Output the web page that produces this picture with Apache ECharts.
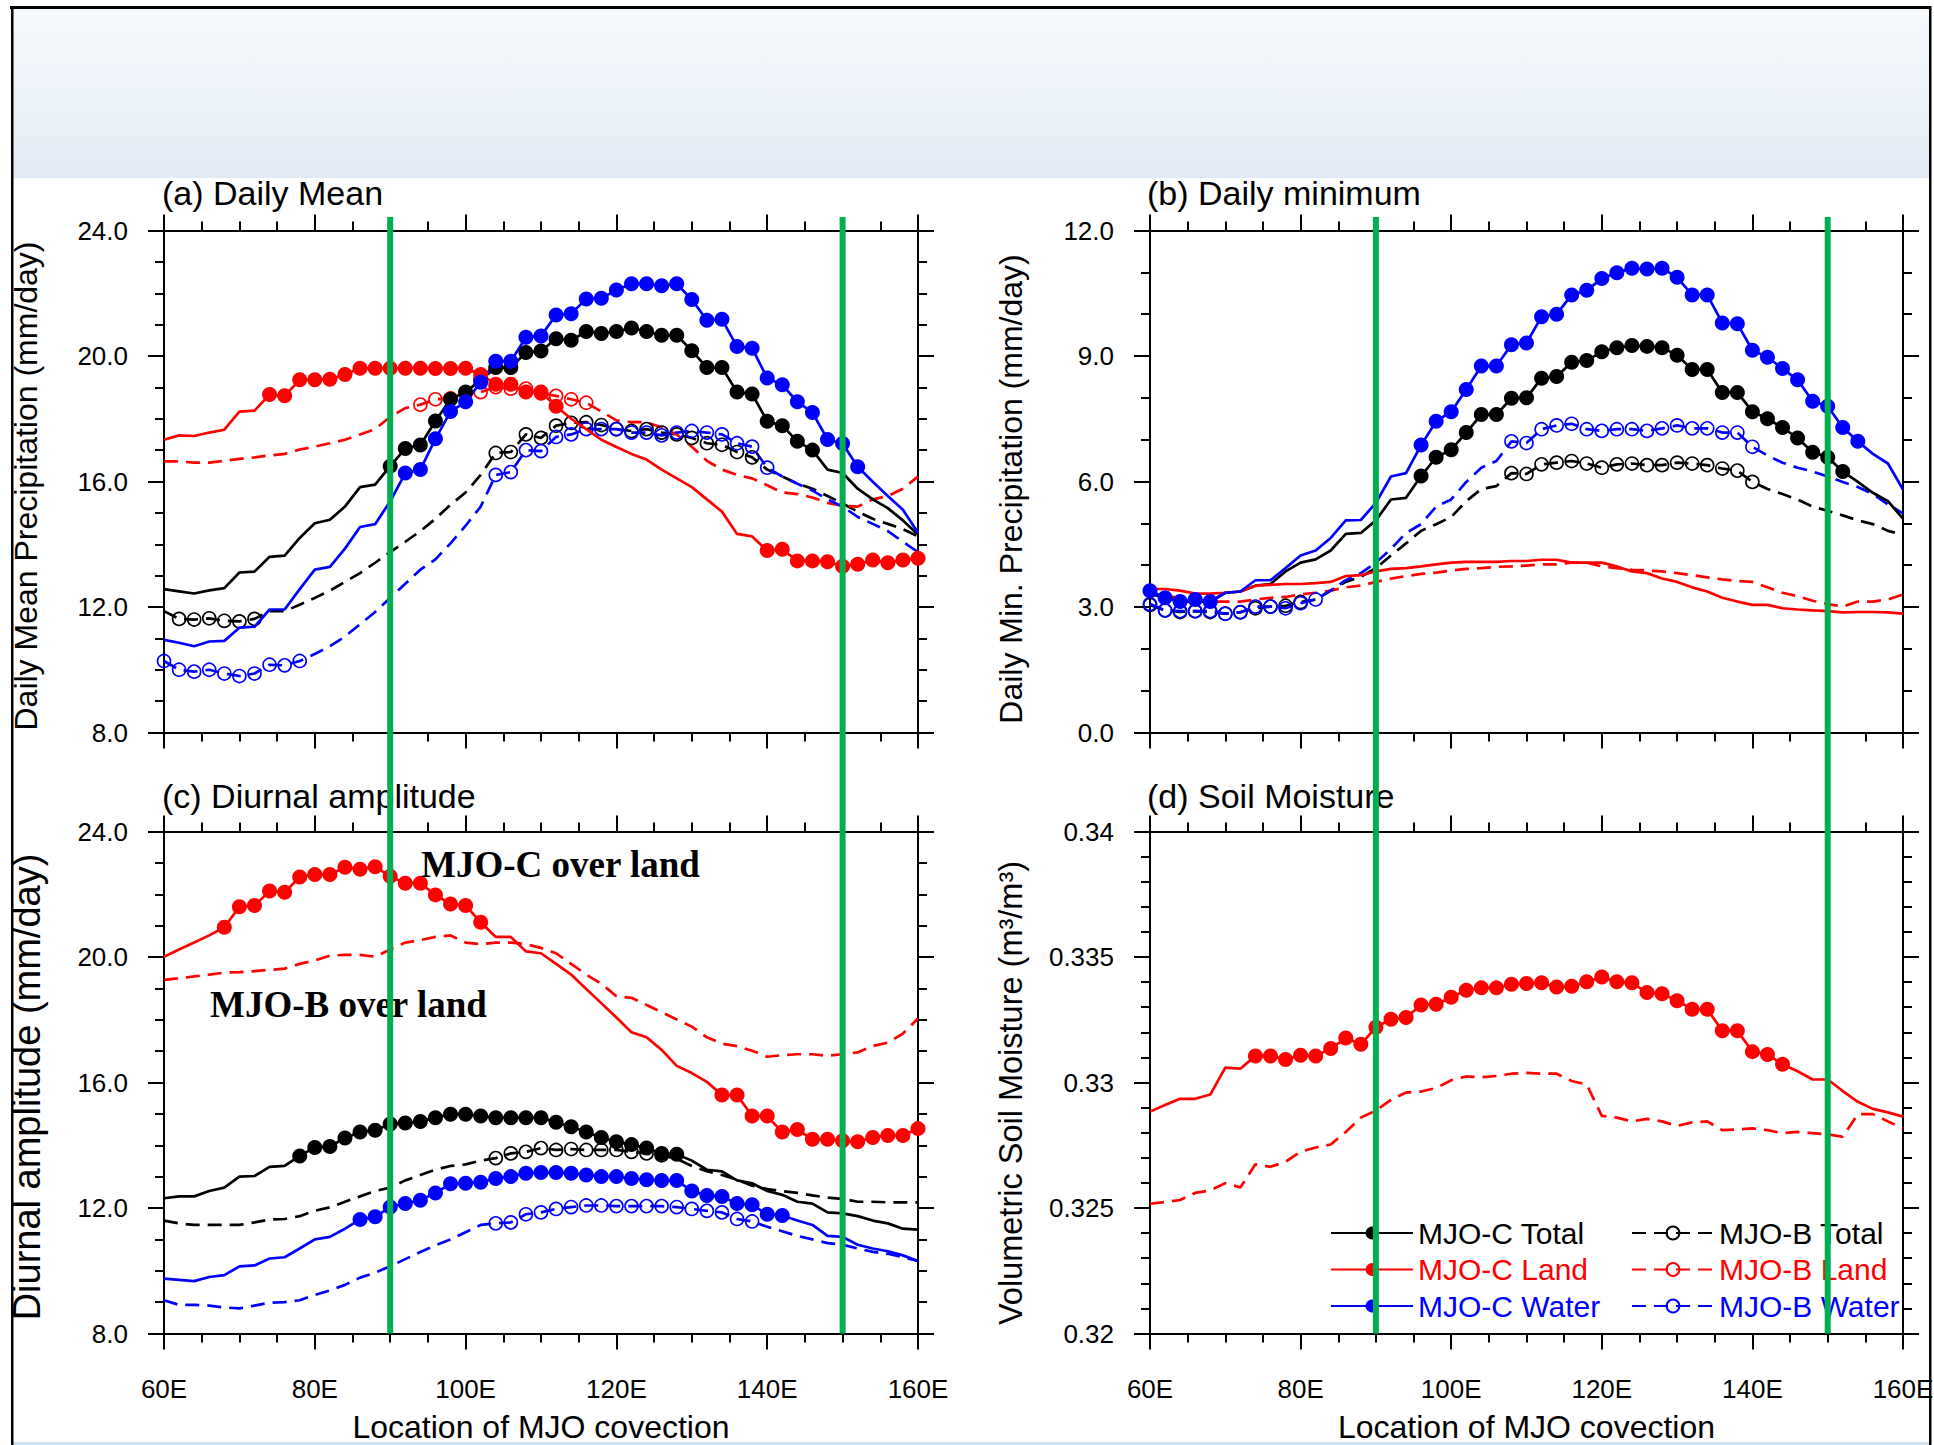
<!DOCTYPE html>
<html>
<head>
<meta charset="utf-8">
<script src="https://cdn.jsdelivr.net/npm/echarts/dist/echarts.min.js"></script>
<style>
html, body { margin: 0; padding: 0; background: #ffffff; }
#chart { width: 1934px; height: 1445px; }
</style>
</head>
<body>
<div id="chart"></div>
<script>
// Longitude of MJO convection (degrees east), shared by every curve
const lons = [60,62,64,66,68,70,72,74,76,78,80,82,84,86,88,90,92,94,96,98,100,102,104,106,108,110,112,114,116,118,120,122,124,126,128,130,132,134,136,138,140,142,144,146,148,150,152,154,156,158,160];
const xTicks = [60, 80, 100, 120, 140, 160];

// (a) Daily mean precipitation (mm/day)
const aCTotal = [12.57,12.5,12.43,12.53,12.6,13.1,13.13,13.6,13.64,14.2,14.67,14.78,15.2,15.82,15.9,16.49,17.05,17.16,17.93,18.62,18.85,19.24,19.63,19.63,20.11,20.16,20.55,20.5,20.78,20.72,20.78,20.89,20.78,20.66,20.66,20.17,19.63,19.63,18.85,18.79,17.92,17.78,17.28,17.0,16.38,16.27,15.77,15.43,15.15,14.76,14.31];
const aCLand  = [17.33,17.47,17.45,17.56,17.65,18.23,18.26,18.77,18.73,19.24,19.24,19.26,19.41,19.61,19.61,19.61,19.61,19.61,19.6,19.6,19.61,19.41,19.1,19.1,18.85,18.85,18.4,18.0,17.67,17.33,17.1,16.88,16.7,16.38,16.1,15.82,15.43,15.04,14.33,14.25,13.8,13.84,13.47,13.47,13.44,13.3,13.36,13.5,13.41,13.5,13.55];
const aCWater = [10.95,10.86,10.75,10.9,10.92,11.34,11.37,11.92,11.92,12.57,13.19,13.28,13.86,14.55,14.64,15.37,16.27,16.38,17.36,18.23,18.54,19.16,19.83,19.83,20.6,20.64,21.31,21.35,21.82,21.84,22.1,22.3,22.3,22.24,22.3,21.8,21.14,21.17,20.3,20.25,19.3,19.08,18.54,18.2,17.34,17.21,16.47,15.99,15.54,15.1,14.37];
const aBTotal = [11.87,11.62,11.6,11.64,11.56,11.54,11.62,11.87,11.87,12.07,12.29,12.52,12.8,13.08,13.41,13.75,14.08,14.42,14.81,15.26,15.65,16.21,16.91,16.94,17.5,17.39,17.78,17.87,17.89,17.8,17.67,17.61,17.67,17.56,17.5,17.39,17.22,17.17,16.94,16.77,16.38,16.16,15.93,15.77,15.54,15.3,15.04,14.81,14.65,14.48,14.25];
const aBLand  = [16.64,16.64,16.6,16.6,16.66,16.72,16.77,16.83,16.88,17.02,17.11,17.22,17.33,17.5,17.67,18.06,18.34,18.45,18.62,18.65,18.81,18.85,19.01,18.96,18.96,18.81,18.73,18.62,18.51,18.23,17.95,17.89,17.89,17.72,17.5,17.11,16.66,16.38,16.21,16.1,15.88,15.65,15.6,15.49,15.32,15.23,15.2,15.43,15.54,15.77,16.16];
const aBWater = [10.28,10.0,9.94,10.0,9.88,9.8,9.88,10.16,10.14,10.28,10.5,10.75,11.06,11.45,11.84,12.29,12.74,13.19,13.52,14.03,14.59,15.2,16.21,16.3,17.0,16.97,17.42,17.5,17.67,17.67,17.67,17.56,17.56,17.47,17.56,17.61,17.56,17.5,17.22,17.11,16.44,16.16,15.93,15.71,15.43,15.2,14.87,14.65,14.42,14.08,13.75];

// (b) Daily minimum precipitation (mm/day)
const bCTotal = [3.32,3.22,3.13,3.13,3.13,3.34,3.37,3.51,3.55,3.85,4.06,4.14,4.35,4.75,4.77,5.07,5.57,5.61,6.13,6.58,6.76,7.17,7.6,7.6,7.99,8.0,8.47,8.51,8.85,8.89,9.1,9.2,9.25,9.23,9.2,9.02,8.68,8.68,8.13,8.13,7.67,7.5,7.29,7.04,6.7,6.58,6.24,5.99,5.73,5.53,5.11];
const bCLand  = [3.43,3.43,3.39,3.32,3.32,3.34,3.37,3.51,3.53,3.55,3.55,3.57,3.6,3.74,3.76,3.85,3.91,3.93,3.97,4.02,4.06,4.08,4.08,4.08,4.1,4.1,4.13,4.13,4.06,4.06,4.06,3.97,3.85,3.81,3.68,3.6,3.47,3.37,3.22,3.13,3.05,3.05,2.97,2.94,2.92,2.9,2.87,2.88,2.88,2.87,2.84];
const bCWater = [3.39,3.22,3.13,3.18,3.13,3.34,3.37,3.64,3.64,3.93,4.23,4.35,4.65,5.07,5.08,5.49,6.12,6.2,6.87,7.44,7.67,8.2,8.76,8.76,9.27,9.31,9.94,10.0,10.46,10.57,10.85,10.99,11.1,11.08,11.1,10.88,10.46,10.46,9.79,9.77,9.14,8.97,8.7,8.43,7.92,7.8,7.29,6.96,6.66,6.43,5.81];
const bBTotal = [3.05,2.92,2.88,2.9,2.88,2.84,2.88,2.97,3.01,3.03,3.12,3.18,3.39,3.6,3.72,3.93,4.23,4.52,4.82,4.98,5.15,5.53,5.82,5.89,6.2,6.18,6.41,6.45,6.49,6.43,6.33,6.41,6.43,6.39,6.39,6.45,6.43,6.39,6.31,6.26,5.99,5.82,5.7,5.57,5.4,5.3,5.19,5.07,4.98,4.82,4.73];
const bBLand  = [3.3,3.26,3.22,3.18,3.13,3.13,3.13,3.18,3.22,3.24,3.3,3.34,3.39,3.47,3.51,3.6,3.68,3.74,3.79,3.82,3.87,3.91,3.93,3.96,3.97,3.99,4.02,4.02,4.06,4.06,3.97,3.93,3.89,3.87,3.85,3.81,3.76,3.71,3.66,3.62,3.6,3.47,3.34,3.26,3.15,3.07,3.01,3.13,3.13,3.18,3.3];
const bBWater = [3.07,2.92,2.9,2.9,2.9,2.84,2.87,3.01,3.01,2.97,3.09,3.18,3.39,3.64,3.81,4.06,4.39,4.77,4.98,5.4,5.57,5.99,6.33,6.49,6.96,6.92,7.25,7.34,7.38,7.25,7.21,7.25,7.25,7.21,7.27,7.34,7.27,7.27,7.17,7.17,6.83,6.62,6.45,6.33,6.24,6.12,5.99,5.87,5.7,5.45,5.24];

// (c) Diurnal amplitude (mm/day)
const cCTotal = [12.31,12.37,12.37,12.54,12.65,13.0,13.02,13.31,13.34,13.66,13.93,13.96,14.23,14.42,14.48,14.68,14.71,14.76,14.88,14.99,14.99,14.93,14.88,14.88,14.88,14.88,14.73,14.59,14.42,14.25,14.11,14.02,13.91,13.74,13.71,13.51,13.22,13.17,12.88,12.79,12.54,12.42,12.2,12.14,11.86,11.83,11.74,11.6,11.51,11.34,11.31];
const cCLand  = [20.01,20.24,20.46,20.69,20.95,21.6,21.64,22.1,22.06,22.55,22.63,22.63,22.86,22.8,22.88,22.57,22.35,22.35,21.98,21.69,21.64,21.11,20.64,20.64,20.18,20.12,19.78,19.44,18.98,18.53,18.07,17.6,17.44,17.04,16.53,16.3,16.02,15.6,15.6,14.93,14.93,14.42,14.5,14.19,14.19,14.14,14.11,14.25,14.31,14.31,14.53];
const cCWater = [9.75,9.71,9.67,9.8,9.86,10.14,10.17,10.39,10.43,10.71,11.0,11.08,11.34,11.63,11.72,12.03,12.14,12.25,12.48,12.77,12.79,12.82,12.94,13.0,13.11,13.13,13.13,13.11,13.05,13.0,13.0,12.94,12.9,12.88,12.88,12.54,12.4,12.37,12.14,12.1,11.8,11.76,11.6,11.46,11.11,11.08,10.83,10.71,10.62,10.49,10.31];
const cBTotal = [11.6,11.51,11.46,11.46,11.46,11.46,11.54,11.63,11.65,11.74,11.91,12.02,12.2,12.37,12.54,12.65,12.88,13.05,13.22,13.34,13.39,13.51,13.59,13.74,13.79,13.91,13.85,13.88,13.85,13.85,13.85,13.79,13.74,13.68,13.57,13.34,13.17,13.05,12.9,12.71,12.6,12.54,12.48,12.4,12.33,12.29,12.2,12.2,12.18,12.18,12.18];
const cBLand  = [19.27,19.32,19.38,19.44,19.5,19.52,19.55,19.59,19.63,19.78,19.89,20.04,20.07,20.07,20.01,20.24,20.46,20.54,20.64,20.69,20.46,20.41,20.46,20.46,20.41,20.29,20.12,19.78,19.44,19.15,18.75,18.7,18.47,18.24,18.01,17.78,17.44,17.24,17.16,17.01,16.82,16.87,16.9,16.9,16.85,16.9,16.96,17.16,17.27,17.56,18.04];
const cBWater = [9.06,8.91,8.91,8.89,8.83,8.8,8.89,8.98,9.0,9.06,9.23,9.37,9.55,9.78,9.94,10.14,10.37,10.6,10.81,11.0,11.23,11.46,11.51,11.54,11.8,11.86,11.97,12.03,12.08,12.08,12.06,12.06,12.06,12.06,12.03,11.97,11.91,11.86,11.65,11.57,11.4,11.26,11.11,11.0,10.88,10.83,10.71,10.6,10.54,10.43,10.31];

// (d) Volumetric soil moisture (m3/m3), land only
const dCLand = [0.32884,0.3291,0.32935,0.32935,0.32952,0.33059,0.33055,0.33106,0.33106,0.33092,0.33109,0.33106,0.33135,0.33177,0.33152,0.3322,0.33252,0.33259,0.33309,0.33312,0.3334,0.33368,0.33377,0.33377,0.33391,0.33394,0.33397,0.3338,0.33383,0.33401,0.3342,0.33401,0.33397,0.33359,0.33354,0.33326,0.33292,0.33292,0.33206,0.33206,0.33123,0.33112,0.33073,0.33045,0.33012,0.33012,0.32966,0.32923,0.32895,0.32881,0.32864];
const dBLand = [0.32517,0.32524,0.32532,0.3256,0.3257,0.32599,0.32582,0.32674,0.32664,0.32684,0.32724,0.32741,0.32753,0.32803,0.3286,0.32888,0.32931,0.3296,0.32964,0.32978,0.33009,0.33024,0.33021,0.33026,0.33035,0.33038,0.33035,0.33035,0.33006,0.32992,0.32867,0.3286,0.32845,0.32855,0.32845,0.32827,0.32841,0.32845,0.3281,0.32813,0.32817,0.3281,0.32798,0.32803,0.32798,0.32793,0.32784,0.32874,0.32874,0.32845,0.32817];

// Longitude ranges where a curve carries markers (significant points)
const aCTotalDots = [[90, 146]];
const aCLandDots  = [[74, 112], [140, 160]];
const aCWaterDots = [[92, 152]];
const aBTotalDots = [[62, 72], [104, 138]];
const aBLandDots  = [[94, 116]];
const aBWaterDots = [[60, 78], [104, 140]];
const bCTotalDots = [[96, 152]];
const bCLandDots  = [];
const bCWaterDots = [[60, 68], [96, 154]];
const bBTotalDots = [[60, 80], [108, 140]];
const bBLandDots  = [];
const bBWaterDots = [[60, 82], [108, 140]];
const cCTotalDots = [[78, 128]];
const cCLandDots  = [[68, 102], [134, 160]];
const cCWaterDots = [[86, 142]];
const cBTotalDots = [[104, 126]];
const cBLandDots  = [];
const cBWaterDots = [[104, 138]];
const dCLandDots  = [[74, 144]];
const dBLandDots  = [];

// Reference longitudes marked by vertical lines
const refLons = [90, 150];

const panelTitles = ['(a) Daily Mean', '(b) Daily minimum', '(c) Diurnal amplitude', '(d) Soil Moisture'];
const yNames = ['Daily Mean Precipitation (mm/day)', 'Daily Min. Precipitation (mm/day)',
                'Diurnal amplitude (mm/day)', 'Volumetric Soil Moisture (m\u00b3/m\u00b3)'];
const xName = 'Location of MJO covection';

const FONT = '"Liberation Sans", Arial, Helvetica, sans-serif';
const SERIF = '"Liberation Serif", "Times New Roman", serif';
const BLACK = '#000000', RED = '#ff0000', BLUE = '#0000ff', GREEN = '#00b050';

const grids = [
  { left: 164,  top: 230.5, width: 754, height: 502 },
  { left: 1150, top: 230.5, width: 753, height: 502 },
  { left: 164,  top: 831.5, width: 754, height: 502 },
  { left: 1150, top: 831.5, width: 753, height: 502 }
];

function inDots(lon, dots) {
  return dots.some(r => lon >= r[0] && lon <= r[1]);
}

function curve(name, gi, vals, dots, color, isB) {
  return {
    type: 'line',
    name: name,
    xAxisIndex: gi * 2,
    yAxisIndex: gi * 2,
    data: vals.map((v, i) => ({ value: [lons[i], v], symbol: inDots(lons[i], dots) ? 'circle' : 'none' })),
    symbol: 'circle',
    symbolSize: isB ? 13 : 15,
    showAllSymbol: true,
    lineStyle: { color: color, width: 2.7, type: isB ? [14, 8] : 'solid' },
    itemStyle: isB
      ? { color: 'rgba(255,255,255,0)', borderColor: color, borderWidth: 1.6 }
      : { color: color, borderWidth: 0 },
    emphasis: { disabled: true },
    silent: true,
    z: isB ? 2 : 3
  };
}

const tickLine = { color: BLACK, width: 2 };

function xAxes(gi, withLabels) {
  const base = {
    type: 'value', gridIndex: gi, min: 60, max: 160, interval: 20,
    axisLine: { show: true, onZero: false, lineStyle: tickLine },
    axisTick: { show: true, inside: false, length: 16, lineStyle: tickLine },
    minorTick: { show: true, splitNumber: 4, length: 9, lineStyle: tickLine },
    splitLine: { show: false }, minorSplitLine: { show: false }
  };
  return [
    Object.assign({}, base, {
      position: 'bottom',
      axisLabel: {
        show: withLabels, margin: 42, fontSize: 26, color: BLACK, fontFamily: FONT,
        showMinLabel: true, showMaxLabel: true,
        formatter: v => (xTicks.indexOf(v) >= 0 ? v + 'E' : '')
      },
      name: withLabels ? xName : '',
      nameLocation: 'middle', nameGap: 77, nameMoveOverlap: false,
      nameTextStyle: { fontSize: 32, color: BLACK, fontFamily: FONT }
    }),
    Object.assign({}, base, { position: 'top', axisLabel: { show: false } })
  ];
}

function yAxes(gi, min, max, interval, minorSplit, fmt) {
  const base = {
    type: 'value', gridIndex: gi, min: min, max: max, interval: interval,
    axisLine: { show: true, onZero: false, lineStyle: tickLine },
    axisTick: { show: true, inside: false, length: 16, lineStyle: tickLine },
    minorTick: { show: true, splitNumber: minorSplit, length: 9, lineStyle: tickLine },
    splitLine: { show: false }, minorSplitLine: { show: false }
  };
  return [
    Object.assign({}, base, {
      position: 'left',
      axisLabel: { show: true, margin: 36, fontSize: 26, color: BLACK, fontFamily: FONT,
                   showMinLabel: true, showMaxLabel: true, formatter: fmt }
    }),
    Object.assign({}, base, { position: 'right', axisLabel: { show: false } })
  ];
}

const fmt1 = v => v.toFixed(1);
const fmt3 = v => String(parseFloat(v.toFixed(3)));

const series = [
  curve('MJO-B Total', 0, aBTotal, aBTotalDots, BLACK, true),
  curve('MJO-B Land',  0, aBLand,  aBLandDots,  RED,   true),
  curve('MJO-B Water', 0, aBWater, aBWaterDots, BLUE,  true),
  curve('MJO-C Total', 0, aCTotal, aCTotalDots, BLACK, false),
  curve('MJO-C Land',  0, aCLand,  aCLandDots,  RED,   false),
  curve('MJO-C Water', 0, aCWater, aCWaterDots, BLUE,  false),

  curve('MJO-B Total', 1, bBTotal, bBTotalDots, BLACK, true),
  curve('MJO-B Land',  1, bBLand,  bBLandDots,  RED,   true),
  curve('MJO-B Water', 1, bBWater, bBWaterDots, BLUE,  true),
  curve('MJO-C Total', 1, bCTotal, bCTotalDots, BLACK, false),
  curve('MJO-C Land',  1, bCLand,  bCLandDots,  RED,   false),
  curve('MJO-C Water', 1, bCWater, bCWaterDots, BLUE,  false),

  curve('MJO-B Total', 2, cBTotal, cBTotalDots, BLACK, true),
  curve('MJO-B Land',  2, cBLand,  cBLandDots,  RED,   true),
  curve('MJO-B Water', 2, cBWater, cBWaterDots, BLUE,  true),
  curve('MJO-C Total', 2, cCTotal, cCTotalDots, BLACK, false),
  curve('MJO-C Land',  2, cCLand,  cCLandDots,  RED,   false),
  curve('MJO-C Water', 2, cCWater, cCWaterDots, BLUE,  false),

  curve('MJO-B Land',  3, dBLand,  dBLandDots,  RED,   true),
  curve('MJO-C Land',  3, dCLand,  dCLandDots,  RED,   false)
];

const legendCommon = {
  orient: 'vertical', top: 1218, itemWidth: 82, itemHeight: 16, itemGap: 6.5,
  selectedMode: false, padding: 0,
  textStyle: { fontSize: 30, fontFamily: FONT, lineHeight: 30 }
};

const chart = echarts.init(document.getElementById('chart'), null, { renderer: 'svg' });

chart.setOption({
  animation: false,
  backgroundColor: '#ffffff',
  grid: grids.map(g => Object.assign({ containLabel: false, outerBoundsMode: 'none' }, g)),
  xAxis: [].concat(xAxes(0, false), xAxes(1, false), xAxes(2, true), xAxes(3, true)),
  yAxis: [].concat(
    yAxes(0, 8, 24, 4, 4, fmt1),
    yAxes(1, 0, 12, 3, 3, fmt1),
    yAxes(2, 8, 24, 4, 4, fmt1),
    yAxes(3, 0.32, 0.34, 0.005, 5, fmt3)
  ),
  legend: [
    Object.assign({}, legendCommon, {
      left: 1330,
      data: [
        { name: 'MJO-C Total', textStyle: { color: BLACK } },
        { name: 'MJO-C Land',  textStyle: { color: RED } },
        { name: 'MJO-C Water', textStyle: { color: BLUE } }
      ]
    }),
    Object.assign({}, legendCommon, {
      left: 1631,
      data: [
        { name: 'MJO-B Total', textStyle: { color: BLACK } },
        { name: 'MJO-B Land',  textStyle: { color: RED } },
        { name: 'MJO-B Water', textStyle: { color: BLUE } }
      ]
    })
  ],
  series: series
});

// Decorations: banner, frame, panel titles, axis names, annotations, reference lines
function txt(text, x, y, opts) {
  return {
    type: 'text', x: x, y: y, rotation: opts.rotation || 0, z: 50, silent: true,
    style: {
      text: text, fill: opts.fill || BLACK,
      fontSize: opts.fontSize, fontFamily: opts.fontFamily || FONT, fontWeight: opts.fontWeight || 'normal',
      align: opts.align || 'left', verticalAlign: 'middle',
      textAlign: opts.align || 'left', textVerticalAlign: 'middle'
    }
  };
}

const gfx = [];
gfx.push({
  type: 'rect', z: 0, silent: true,
  shape: { x: 12, y: 9, width: 1918, height: 169 },
  style: { fill: { type: 'linear', x: 0, y: 0, x2: 0, y2: 1,
    colorStops: [{ offset: 0, color: '#f6f9fc' }, { offset: 1, color: '#e2ebf5' }] } }
});
gfx.push({ type: 'rect', z: 60, silent: true, shape: { x: 10, y: 6, width: 1921, height: 3 }, style: { fill: BLACK } });
gfx.push({ type: 'rect', z: 60, silent: true, shape: { x: 11, y: 6, width: 2.5, height: 1439 }, style: { fill: BLACK } });
gfx.push({ type: 'rect', z: 60, silent: true, shape: { x: 1929, y: 6, width: 2.5, height: 1439 }, style: { fill: BLACK } });
gfx.push({ type: 'rect', z: 0, silent: true, shape: { x: 12, y: 1442, width: 1918, height: 3 }, style: { fill: '#d3e1ef' } });

// panel titles
gfx.push(txt(panelTitles[0], 162, 193, { fontSize: 34 }));
gfx.push(txt(panelTitles[1], 1147, 193, { fontSize: 34 }));
gfx.push(txt(panelTitles[2], 162, 796, { fontSize: 34 }));
gfx.push(txt(panelTitles[3], 1147, 796, { fontSize: 34 }));

// y-axis names
const yNameX = [26, 1011, 27, 1011];
const yNameY = [486, 489, 1087, 1093];
const yNameSize = [32, 32, 38, 32.5];
yNames.forEach((n, i) => {
  gfx.push(txt(n, yNameX[i], yNameY[i], { fontSize: yNameSize[i], align: 'center', rotation: Math.PI / 2 }));
});

// annotations in panel (c)
gfx.push(txt('MJO-C over land', 421, 864, { fontSize: 37, fontFamily: SERIF, fontWeight: 'bold' }));
gfx.push(txt('MJO-B over land', 210, 1004, { fontSize: 37, fontFamily: SERIF, fontWeight: 'bold' }));

// vertical reference lines at 90E and 150E, running through both rows of panels
[0, 2].forEach(ai => {
  refLons.forEach(lon => {
    const px = chart.convertToPixel({ xAxisIndex: ai }, lon);
    gfx.push({
      type: 'line', z: 100, silent: true,
      shape: { x1: px, y1: 217, x2: px, y2: 1333.5 },
      style: { stroke: GREEN, lineWidth: 6 }
    });
  });
});

chart.setOption({ graphic: gfx });
</script>
</body>
</html>
